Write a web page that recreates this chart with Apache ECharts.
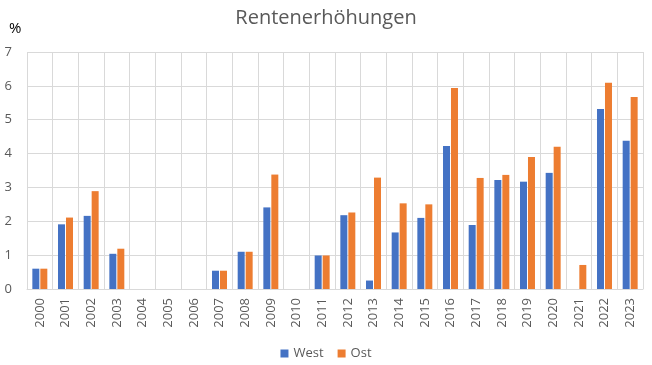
<!DOCTYPE html>
<html><head><meta charset="utf-8">
<script src="https://cdn.jsdelivr.net/npm/echarts@6/dist/echarts.min.js"></script>
<style>html,body{margin:0;padding:0;background:#fff}#c{width:652px;height:365px}</style>
</head><body><div id="c"></div>
<script>
var years = ['2000','2001','2002','2003','2004','2005','2006','2007','2008','2009','2010','2011','2012','2013','2014','2015','2016','2017','2018','2019','2020','2021','2022','2023'];
var west = [0.6,1.91,2.16,1.04,0,0,0,0.54,1.1,2.41,0,0.99,2.18,0.25,1.67,2.1,4.22,1.89,3.22,3.17,3.43,0,5.32,4.38];
var ost  = [0.6,2.11,2.89,1.19,0,0,0,0.54,1.1,3.38,0,0.99,2.26,3.29,2.53,2.5,5.94,3.28,3.37,3.9,4.2,0.71,6.09,5.67];
var yTicks = [0,1,2,3,4,5,6,7];
var font = '"Open Sans", "Noto Sans", sans-serif';
var chart = echarts.init(document.getElementById('c'));
chart.setOption({
  animation:false,
  textStyle:{fontFamily:font},
  title:[{text:'Rentenerhöhungen',left:'center',top:3,textStyle:{fontFamily:font,fontSize:20,fontWeight:'normal',color:'#595959'}},
         {text:'%',left:4,top:16,textStyle:{fontFamily:font,fontSize:15,fontWeight:'normal',color:'#000'}}],
  legend:{bottom:0,left:'center',itemWidth:8,itemHeight:8,itemGap:14,icon:'rect',textStyle:{fontFamily:font,fontSize:13,color:'#595959'},data:['West','Ost']},
  grid:{left:27,right:9,top:52,bottom:76,containLabel:false},
  xAxis:{type:'category',data:years,
    axisLine:{show:true,lineStyle:{color:'#d9d9d9'}},axisTick:{show:false},
    splitLine:{show:true,lineStyle:{color:'#d9d9d9',width:1}},
    axisLabel:{rotate:90,fontSize:13,color:'#595959',margin:9,interval:0}},
  yAxis:{type:'value',min:0,max:7,interval:1,
    axisLine:{show:false},axisTick:{show:false},
    splitLine:{lineStyle:{color:'#d9d9d9',width:1}},
    axisLabel:{fontSize:13,color:'#595959',margin:15,formatter:function(v){return yTicks.indexOf(v)>=0?String(v):'';}}},
  series:[
    {name:'West',type:'bar',data:west,barWidth:7,barGap:'14%',itemStyle:{color:'#4472C4'}},
    {name:'Ost',type:'bar',data:ost,barWidth:7,itemStyle:{color:'#ED7D31'}}
  ]
});
</script></body></html>
